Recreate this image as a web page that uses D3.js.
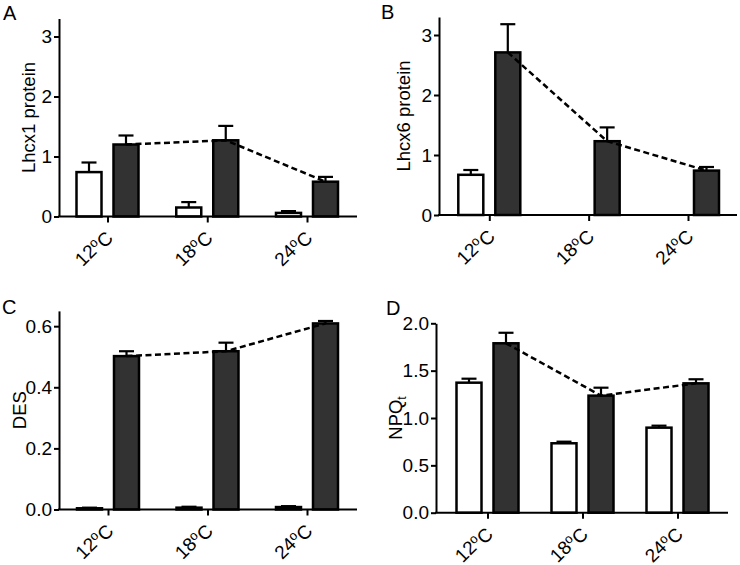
<!DOCTYPE html>
<html><head><meta charset="utf-8">
<script src="https://cdn.jsdelivr.net/npm/d3@7"></script>
<style>body{margin:0;background:#fff;} svg{display:block;} text{font-family:"Liberation Sans",Arial,sans-serif;fill:#000;}</style>
</head><body><svg id="c" width="740" height="565"></svg>
<script>
const categories = ["12", "18", "24"];

const lhcx1White = [0.74, 0.15, 0.06];
const lhcx1WhiteErr = [0.16, 0.09, 0.03];
const lhcx1Dark = [1.20, 1.27, 0.58];
const lhcx1DarkErr = [0.15, 0.24, 0.08];

const lhcx6White = [0.67, null, null];
const lhcx6WhiteErr = [0.08, null, null];
const lhcx6Dark = [2.71, 1.23, 0.74];
const lhcx6DarkErr = [0.47, 0.23, 0.06];

const desWhite = [0.004, 0.006, 0.008];
const desWhiteErr = [0.002, 0.003, 0.003];
const desDark = [0.502, 0.518, 0.609];
const desDarkErr = [0.016, 0.028, 0.008];

const npqWhite = [1.373, 0.733, 0.898];
const npqWhiteErr = [0.042, 0.017, 0.021];
const npqDark = [1.789, 1.236, 1.366];
const npqDarkErr = [0.111, 0.084, 0.043];

const yTicksA = [0, 1, 2, 3];
const yTicksB = [0, 1, 2, 3];
const yTicksC = [0.0, 0.2, 0.4, 0.6];
const yTicksD = [0.0, 0.5, 1.0, 1.5, 2.0];

const panels = [
  {letter:"A", label:"Lhcx1 protein", white:lhcx1White, whiteErr:lhcx1WhiteErr, dark:lhcx1Dark, darkErr:lhcx1DarkErr,
   ticks:yTicksA, fmt:d3.format("d"), ymax:3.3, axL:59, axR:357, c1:107.5, c3:307, y0:216.5, yTop:18.5,
   letterX:3, letterY:20, labelX:35},
  {letter:"B", label:"Lhcx6 protein", white:lhcx6White, whiteErr:lhcx6WhiteErr, dark:lhcx6Dark, darkErr:lhcx6DarkErr,
   ticks:yTicksB, fmt:d3.format("d"), ymax:3.3, axL:439, axR:737, c1:489.3, c3:688, y0:215, yTop:17,
   letterX:381, letterY:19, labelX:410},
  {letter:"C", label:"DES", white:desWhite, whiteErr:desWhiteErr, dark:desDark, darkErr:desDarkErr,
   ticks:yTicksC, fmt:d3.format(".1f"), ymax:0.65, axL:59, axR:357, c1:108, c3:307, y0:509.5, yTop:310.9,
   letterX:2, letterY:314, labelX:26},
  {letter:"D", label:"NPQ", sub:"t", white:npqWhite, whiteErr:npqWhiteErr, dark:npqDark, darkErr:npqDarkErr,
   ticks:yTicksD, fmt:d3.format(".1f"), ymax:2.0, axL:436, axR:728, c1:487.5, c3:677.5, y0:512.7, yTop:323.3,
   letterX:386, letterY:315, labelX:402}
];

const svg = d3.select("#c");
const off = 18.5, bw = 25, capW = 15;

panels.forEach(p => {
  const g = svg.append("g");
  const y = d3.scaleLinear().domain([0, p.ymax]).range([p.y0, p.yTop]);
  const x = d3.scalePoint().domain(categories).range([p.c1, p.c3]);

  // y axis
  const ya = g.append("g").attr("transform", `translate(${p.axL},0)`)
    .call(d3.axisLeft(y).tickValues(p.ticks).tickFormat(p.fmt).tickSize(5).tickSizeOuter(0).tickPadding(2));
  ya.attr("font-size", 19).attr("font-family", "Liberation Sans, Arial, sans-serif");
  ya.select(".domain").attr("stroke-width", 2).attr("stroke", "#000");
  ya.selectAll(".tick line").attr("stroke-width", 2).attr("stroke", "#000");
  ya.selectAll(".tick text").attr("font-size", 19).attr("fill", "#000");

  // x axis ticks
  const xa = g.append("g").attr("transform", `translate(0,${p.y0})`)
    .call(d3.axisBottom(x).tickSize(6).tickSizeOuter(0).tickFormat(""));
  xa.select(".domain").remove();
  xa.selectAll(".tick line").attr("stroke-width", 2).attr("stroke", "#000");

  // x labels rotated
  categories.forEach(c => {
    const t = g.append("text").attr("font-size", 19).attr("text-anchor", "end")
      .attr("transform", `translate(${x(c) + 5},${p.y0 + 21}) rotate(-45)`);
    t.append("tspan").text(c);
    t.append("tspan").attr("dy", "-0.42em").attr("font-size", 13).text("o");
    t.append("tspan").attr("dy", "0.42em").text("C");
  });

  // bars
  const series = [
    {vals:p.white, errs:p.whiteErr, dx:-off, fill:"#ffffff"},
    {vals:p.dark, errs:p.darkErr, dx:off, fill:"#323232"}
  ];
  series.forEach(s => {
    categories.forEach((c, i) => {
      const v = s.vals[i];
      if (v === null) return;
      const cx = x(c) + s.dx;
      const e = s.errs[i];
      g.append("line").attr("x1", cx).attr("x2", cx).attr("y1", y(v)).attr("y2", y(v + e))
        .attr("stroke", "#000").attr("stroke-width", 2.2);
      g.append("line").attr("x1", cx - capW/2).attr("x2", cx + capW/2).attr("y1", y(v + e)).attr("y2", y(v + e))
        .attr("stroke", "#000").attr("stroke-width", 2.2);
      g.append("rect").attr("x", cx - bw/2).attr("width", bw).attr("y", y(v)).attr("height", y(0) - y(v))
        .attr("fill", s.fill).attr("stroke", "#000").attr("stroke-width", 2.5);
    });
  });

  // dashed line connecting dark bars
  const line = d3.line().x((d, i) => x(categories[i]) + off).y(d => y(d));
  g.append("path").datum(p.dark).attr("d", line).attr("fill", "none")
    .attr("stroke", "#000").attr("stroke-width", 2.5).attr("stroke-dasharray", "6,3.5");

  // x axis line
  g.append("line").attr("x1", p.axL - 1).attr("x2", p.axR).attr("y1", p.y0).attr("y2", p.y0)
    .attr("stroke", "#000").attr("stroke-width", 2);

  // y label
  const midY = (p.y0 + p.yTop) / 2;
  const yl = g.append("text").attr("font-size", 18.5).attr("text-anchor", "middle")
    .attr("transform", `translate(${p.labelX},${midY}) rotate(-90)`);
  yl.append("tspan").text(p.label);
  if (p.sub) {
    yl.append("tspan").attr("dy", "0.35em").attr("font-size", 12).text(p.sub);
  }

  // panel letter
  g.append("text").attr("x", p.letterX).attr("y", p.letterY).attr("font-size", 20).text(p.letter);
});
</script></body></html>
